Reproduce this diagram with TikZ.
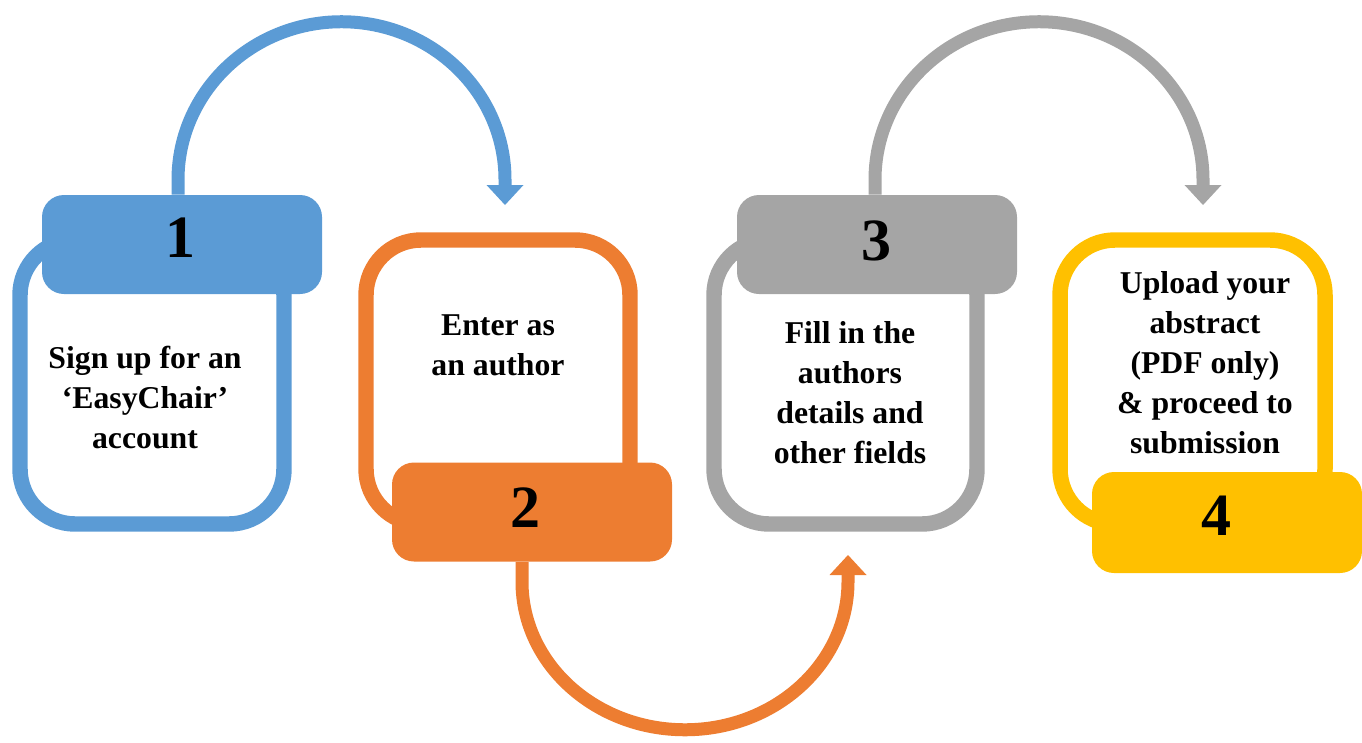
\documentclass[tikz,border=0pt]{standalone}
\usepackage{fontspec}
\setmainfont{Liberation Serif}
\usepackage{tikz}
\usetikzlibrary{arrows.meta}
\usepackage{xcolor}
\definecolor{step-blue}{HTML}{5B9BD5}
\definecolor{step-orange}{HTML}{ED7D31}
\definecolor{step-grey}{HTML}{A5A5A5}
\definecolor{step-yellow}{HTML}{FFC000}

\begin{document}
\begin{tikzpicture}[x=0.75pt, y=-0.75pt,
    frame/.style={line width=11.6pt, rounded corners=41.25pt},
    tab/.style={rectangle, rounded corners=16.5pt, minimum width=210pt, minimum height=74.25pt, inner sep=0pt},
    num/.style={inner sep=0pt, font=\fontsize{45pt}{50pt}\selectfont\bfseries},
    txt/.style={align=center, inner sep=0pt, font=\fontsize{23.8pt}{30pt}\selectfont\bfseries},
    flow/.style={line width=9.75pt, -{Triangle[width=27.75pt, length=15pt, line width=0pt]}}]
    \useasboundingbox (0, 0) rectangle (1362, 742);

    \draw[frame, step-blue] (20, 240) rectangle (284, 524);
    \draw[frame, step-orange] (366, 240) rectangle (630, 524);
    \draw[frame, step-grey] (714, 240) rectangle (977, 524);
    \draw[frame, step-yellow] (1060, 240) rectangle (1325, 524);

    \node[tab, fill=step-blue] (tab1) at (182, 244.5) {};
    \node[tab, fill=step-orange] (tab2) at (532, 512) {};
    \node[tab, fill=step-grey] (tab3) at (877, 244.5) {};
    \node[tab, fill=step-yellow, minimum width=202.5pt, minimum height=75.75pt] (tab4) at (1227, 522.5) {};

    \coordinate (in2) at (505, 205);
    \coordinate (in3) at (848, 555);
    \coordinate (in4) at (1203, 205);
    \draw[flow, step-blue] ([xshift=-3pt]tab1.north) -- ++(0, -15)
        arc[start angle=180, end angle=360, x radius=163.5, y radius=158] -- (in2);
    \draw[flow, step-orange] ([xshift=-7.5pt]tab2.south) -- ++(0, 20)
        arc[start angle=180, end angle=0, x radius=163, y radius=148] -- (in3);
    \draw[flow, step-grey] ([xshift=-1.5pt]tab3.north) -- ++(0, -15)
        arc[start angle=180, end angle=360, x radius=164, y radius=158] -- (in4);

    \node[num] (num1) at (180, 238) {1};
    \node[num] (num2) at (525, 507.5) {2};
    \node[num] (num3) at (876, 241) {3};
    \node[num] (num4) at (1216, 516) {4};

    \node[txt] (txt1) at (145, 397.5) {Sign up for an\\‘EasyChair’\\account};
    \node[txt] (txt2) at (498, 345.5) {Enter as\\an author};
    \node[txt] (txt3) at (850, 392.5) {Fill in the\\authors\\details and\\other fields};
    \node[txt] (txt4) at (1205, 363) {Upload your\\abstract\\(PDF only)\\\& proceed to\\submission};
\end{tikzpicture}
\end{document}
